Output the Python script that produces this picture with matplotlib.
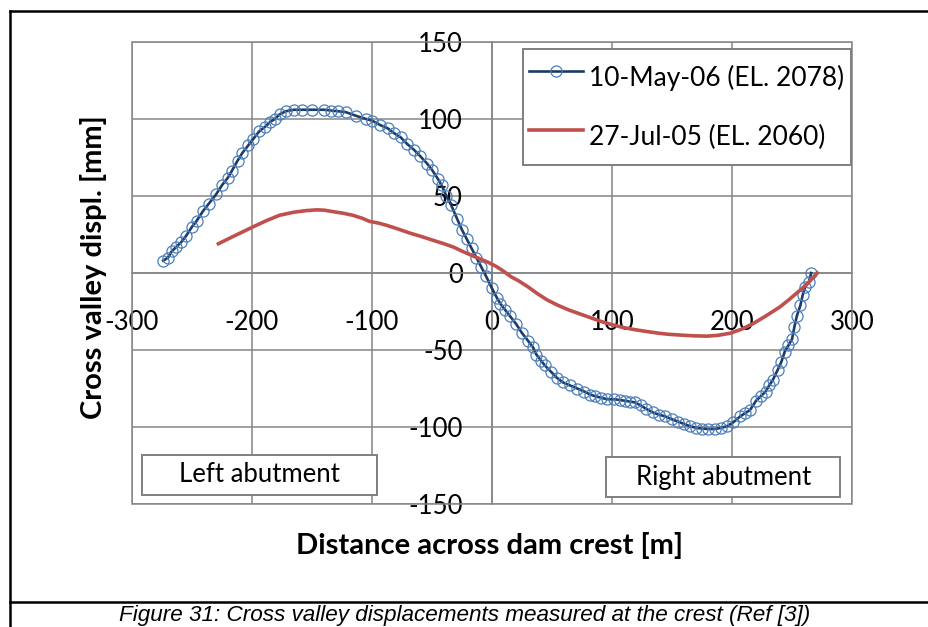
import matplotlib.pyplot as plt
from matplotlib.lines import Line2D
from matplotlib.patches import Rectangle

# Cross valley displacement along the dam crest (distance [m], displacement [mm])
may06_x = [-274, -270, -267, -263, -259, -255, -250, -246, -241, -236,
           -230, -225, -220, -217, -212, -208, -203, -199, -194, -189,
           -185, -181, -177, -172, -165, -158, -150, -140, -134, -128,
           -122, -113, -105, -100, -93, -87, -82, -76, -71, -65,
           -60, -54, -50, -45, -42, -38, -34, -29, -25, -21,
           -17, -13, -9, -5, 0, 4, 7, 11, 15, 20,
           25, 30, 34, 37, 41, 44, 49, 54, 59, 65,
           71, 77, 82, 86, 91, 96, 102, 107, 111, 115,
           119, 124, 128, 134, 139, 144, 150, 155, 160, 165,
           170, 175, 180, 186, 191, 196, 201, 207, 211, 215,
           220, 224, 228, 231, 234, 238, 241, 244, 247, 250,
           252, 254, 257, 259, 261, 264, 266]
may06_y = [8, 10, 14, 17, 20, 24, 30, 34, 40, 45,
           51, 57, 62, 66, 73, 78, 83, 87, 92, 95,
           98, 100, 103, 105, 106, 106, 106, 106, 105.5, 105,
           104.5, 102, 100, 99, 96, 94, 91, 88, 84, 80,
           76, 71, 67, 61, 57, 50, 44, 35, 28, 22,
           16, 10, 4, -2, -10, -16, -20, -24, -28, -33,
           -39, -44, -48, -53, -57, -60, -64, -68, -71, -73,
           -75, -77, -79, -80, -81, -82, -82, -82.5, -83, -83.5,
           -84, -86, -88, -90.5, -92, -93, -95, -96.5, -98, -99.5,
           -100.5, -101, -101.3, -101.3, -100.5, -99.5, -97, -93, -91, -89,
           -83, -80, -77, -73, -69.5, -63, -58, -51, -47, -43,
           -35, -28, -21, -14, -9, -6, 0]

jul05_x = [-228, -215, -199, -188, -177, -165, -155, -146, -140, -132,
           -124, -116, -108, -102, -95, -88, -78, -68, -58, -49,
           -40, -32, -25, -18, -11, -4, 3, 9, 16, 22,
           30, 38, 46, 55, 64, 73, 82, 91, 101, 110,
           119, 129, 138, 147, 157, 168, 179, 188, 198, 208,
           218, 228, 240, 248, 257, 264, 271]
jul05_y = [19, 24, 30, 34, 37.5, 39.5, 40.5, 41, 40.8, 39.8,
           38.8, 37.5, 35.5, 33.5, 32.5, 31, 28.5, 25.8, 23.5, 21.2,
           19, 16.8, 14.2, 11.8, 9.5, 7.2, 4.5, 1.5, -2.5, -5,
           -9, -13.5, -17.5, -21, -24, -26.5, -29, -31.5, -33.8, -35.5,
           -36.8, -38, -39, -39.8, -40.3, -40.8, -41, -40.5, -39.2, -36.5,
           -32.7, -28, -22, -17, -11, -6, 0]

series_labels = ["10-May-06 (EL. 2078)", "27-Jul-05 (EL. 2060)"]
x_ticks = [-300, -200, -100, 0, 100, 200, 300]
y_ticks = [-150, -100, -50, 0, 50, 100, 150]

plt.rcParams['font.family'] = 'Lato'
plt.rcParams['axes.unicode_minus'] = False

GRID = "#868686"
BOX = "#7f7f7f"
BLUE_LINE = "#1f3a64"
BLUE_MARK = "#4a7ebb"
RED = "#c0504d"

W, H = 929, 627
fig = plt.figure(figsize=(W / 100, H / 100), dpi=100)
ax = fig.add_axes([132 / W, 1 - 504 / H, 720 / W, 462 / H])

ax.plot(may06_x, may06_y, color=BLUE_LINE, lw=1.9, marker='o', ms=8,
        mfc='none', mec=BLUE_MARK, mew=0.9, label=series_labels[0], zorder=3)
ax.plot(jul05_x, jul05_y, color=RED, lw=2.6, label=series_labels[1], zorder=3)

ax.set_xlim(-300, 300)
ax.set_ylim(-150, 150)
ax.set_xticks(x_ticks)
ax.set_yticks(y_ticks)
ax.grid(True, color=GRID, lw=1.1)
ax.set_axisbelow(True)

# axes cross at the origin, outer frame drawn as a box
for side in ['top', 'right']:
    ax.spines[side].set_visible(False)
ax.spines['left'].set_position(('data', 0))
ax.spines['bottom'].set_position(('data', 0))
for side in ['left', 'bottom']:
    ax.spines[side].set_color(GRID)
    ax.spines[side].set_linewidth(1.1)
ax.add_patch(Rectangle((0, 0), 1, 1, transform=ax.transAxes, fill=False,
                       ec=GRID, lw=1.1, clip_on=False, zorder=1))

ax.tick_params(axis='both', length=0, labelsize=18.5)
ax.tick_params(axis='x', pad=27)
ax.tick_params(axis='y', pad=21)

ax.set_xlabel("Distance across dam crest [m]", fontsize=21, fontweight='bold')
ax.xaxis.set_label_coords(0.497, -0.089)
ax.xaxis.label.set_va('center')
ax.set_ylabel("Cross valley displ. [mm]", fontsize=21, fontweight='bold')
ax.yaxis.set_label_coords(-0.054, 0.513)
ax.yaxis.label.set_va('center')

leg = ax.legend(loc='upper right', bbox_to_anchor=(0.9986, 0.985),
                borderaxespad=0, fontsize=19, frameon=True, fancybox=False,
                edgecolor=BOX, labelspacing=0.576, handlelength=2.05,
                handleheight=2.175, handletextpad=0.23, borderpad=0.25)
leg.get_frame().set_linewidth(1.4)
leg.get_frame().set_alpha(1)

# abutment annotation boxes
for (x0, y0, tx, ty, txt) in [(0.0139, 0.0195, 0.177, 0.0628, "Left abutment"),
                              (0.658, 0.0152, 0.8215, 0.0584, "Right abutment")]:
    ax.add_patch(Rectangle((x0, y0), 0.326, 0.0866, transform=ax.transAxes,
                           fc='white', ec=BOX, lw=1.4, zorder=4))
    ax.text(tx, ty, txt, transform=ax.transAxes, ha='center', va='center',
            fontsize=18.5, zorder=5)

# page frame and caption
fig.add_artist(Line2D([9.7 / W, 9.7 / W], [0, 1 - 10.5 / H],
                      transform=fig.transFigure, color='black', lw=1.8))
fig.add_artist(Line2D([9.7 / W, 1], [1 - 10.5 / H, 1 - 10.5 / H],
                      transform=fig.transFigure, color='black', lw=1.8))
fig.add_artist(Line2D([9.7 / W, 1], [1 - 601.5 / H, 1 - 601.5 / H],
                      transform=fig.transFigure, color='black', lw=1.8))
fig.text(465 / W, 1 - 615 / H,
         "Figure 31: Cross valley displacements measured at the crest (Ref [3])",
         ha='center', va='center', fontsize=16.2, style='italic',
         family='Liberation Sans')

fig.savefig("out.png", dpi=100)
